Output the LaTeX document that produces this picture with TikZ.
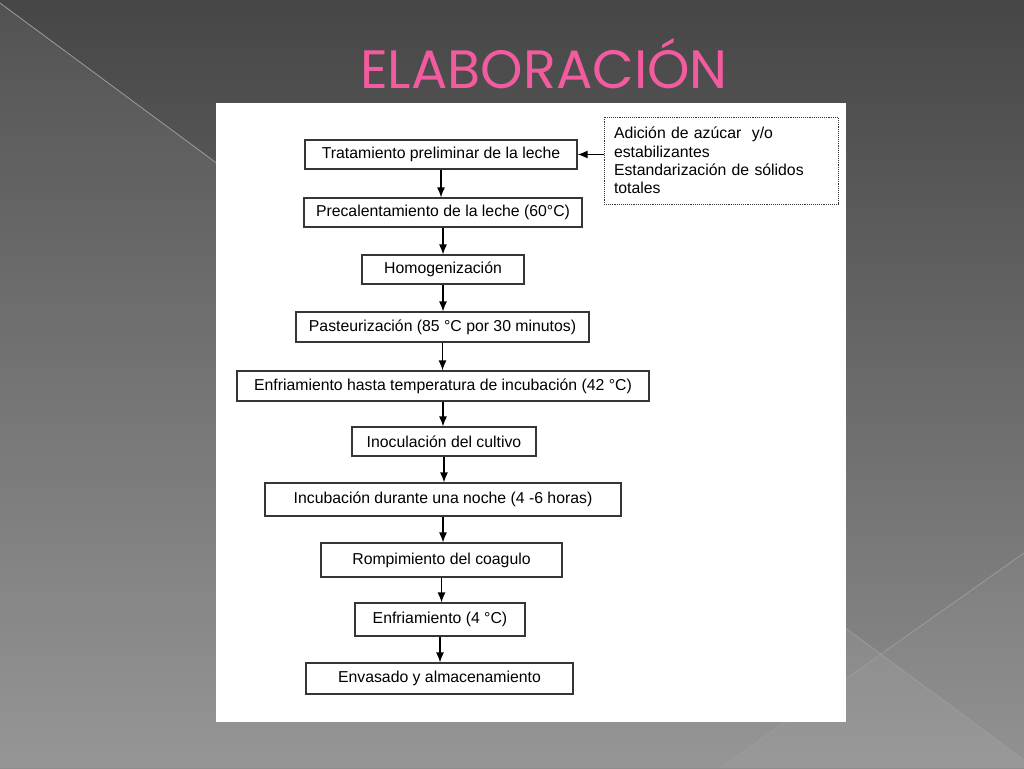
\documentclass[tikz,border=0pt]{standalone}
\usepackage{fontspec}
\setmainfont{Liberation Sans}
\newfontfamily\titlefont{Poppins}
\usetikzlibrary{arrows}
\usetikzlibrary{arrows.meta}
\usetikzlibrary{shapes}
\definecolor{bgtop}{HTML}{464646}
\definecolor{bgbottom}{HTML}{8E8E8E}
\definecolor{bgline}{HTML}{9C9C9C}
\definecolor{titlepink}{HTML}{F25C9E}
\definecolor{boxline}{HTML}{363636}

\begin{document}
\begin{tikzpicture}[x = 1pt, y = -1pt, font = \fontsize{15.8}{18.3}\selectfont]
	\tikzstyle{stepStyle} = [shape = rectangle, draw = boxline, line width = 1.2pt, fill = white, inner sep = 0pt, minimum height = 29pt]
	\tikzstyle{noteStyle} = [shape = rectangle, draw = boxline, densely dotted, line width = 0.9pt, inner xsep = 10pt, align = left, text width = 214pt, minimum height = 87pt]
	\tikzstyle{flowStyle} = [-{Latex[length = 10pt, width = 8pt]}, line width = 1.2pt]
	\useasboundingbox (0,0) rectangle (1024,768);
	% fondo
	\shade[top color = bgtop, bottom color = bgbottom] (0,0) rectangle (1024,768);
	\fill[white, opacity = 0.07] (0,3) -- (1024,760) -- (1024,768) -- (0,768) -- cycle;
	\fill[white, opacity = 0.035] (1024,553) -- (720,768) -- (1024,768) -- cycle;
	\draw[bgline, line width = 0.8pt] (0,3) -- (1024,760);
	\draw[bgline, line width = 0.8pt] (1024,553) -- (720,768);
	\fill[white] (216,103) rectangle (846,722);
	\node[font = \titlefont\fontsize{54}{54}\selectfont, text = titlepink, anchor = base] (title) at (544,88) {ELABORACIÓN};
	% pasos
	\node[stepStyle, minimum width = 272pt] (t1) at (441,154.5) {Tratamiento preliminar de la leche};
	\node[stepStyle, minimum width = 278pt] (t2) at (443,212.5) {Precalentamiento de la leche (60°C)};
	\node[stepStyle, minimum width = 162pt] (t3) at (443,269.5) {Homogenización};
	\node[stepStyle, minimum width = 293pt, minimum height = 30pt] (t4) at (442.5,327) {Pasteurización (85 °C por 30 minutos)};
	\node[stepStyle, minimum width = 412pt, minimum height = 30pt] (t5) at (443,386) {Enfriamiento hasta temperatura de incubación (42 °C)};
	\node[stepStyle, minimum width = 184pt] (t6) at (444,441.5) {Inoculación del cultivo};
	\node[stepStyle, minimum width = 356pt, minimum height = 33pt] (t7) at (443,499.5) {Incubación durante una noche (4 -6 horas)};
	\node[stepStyle, minimum width = 241pt, minimum height = 34pt] (t8) at (441.5,560) {Rompimiento del coagulo};
	\node[stepStyle, minimum width = 170pt, minimum height = 33pt] (t9) at (440,619.5) {Enfriamiento (4 °C)};
	\node[stepStyle, minimum width = 267pt, minimum height = 31pt] (t10) at (439.5,678.5) {Envasado y almacenamiento};
	\node[noteStyle] (note) at (721,160.5) {Adición de azúcar\ \ y/o\\estabilizantes\\Estandarización de sólidos\\totales};
	% flechas
	\draw[flowStyle] (note.west |- t1.east) -- (t1.east);
	\foreach \a/\b in {t1/t2, t2/t3, t3/t4, t4/t5, t5/t6, t6/t7, t7/t8, t8/t9, t9/t10}
		\draw[flowStyle] (\a.south) -- (\a.south |- \b.north);
\end{tikzpicture}
\end{document}
